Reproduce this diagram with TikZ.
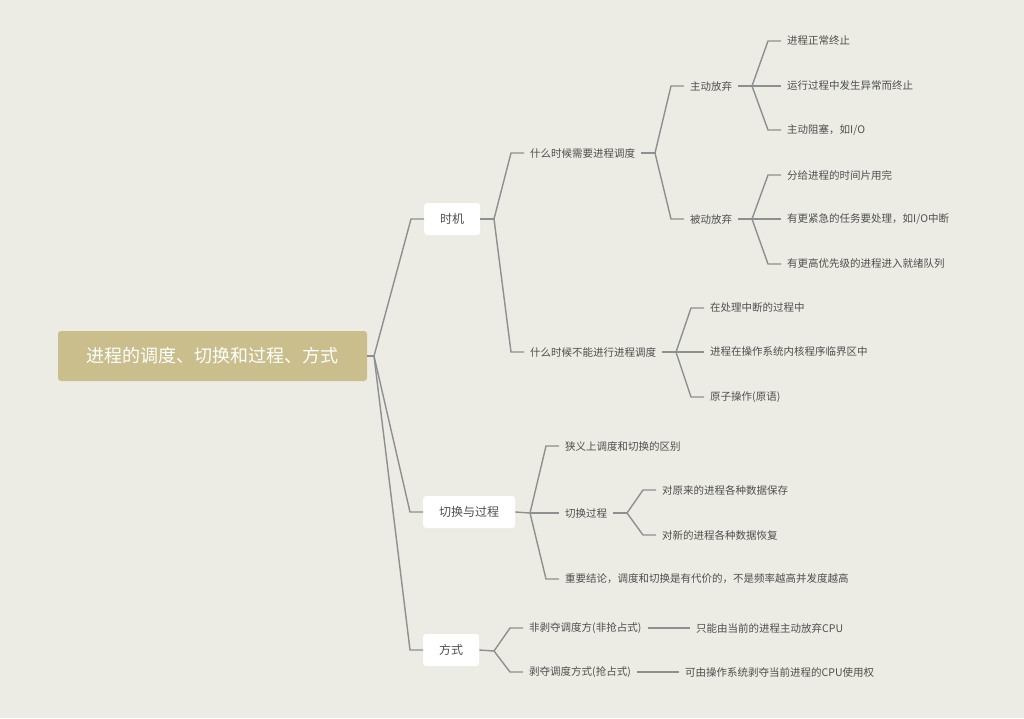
\documentclass[tikz,border=0pt]{standalone}
\usepackage{fontspec}
\newfontfamily\cjk{Noto Sans CJK SC}
\definecolor{paper}{HTML}{ECECE5}
\definecolor{gold}{HTML}{C9BE8C}
\definecolor{wire}{HTML}{8C9090}
\definecolor{ink}{HTML}{4E4E4E}
\tikzset{
  link/.style={draw=wire,line width=1.4pt},
  rootbox/.style={rectangle,fill=gold,rounded corners=3pt,text=white,minimum width=309pt,minimum height=50pt,font=\cjk\fontsize{18}{20}\selectfont},
  topic/.style={rectangle,fill=white,rounded corners=3pt,text=ink,anchor=west,inner xsep=16pt,inner ysep=0pt,minimum height=32pt,font=\cjk\fontsize{12}{14}\selectfont},
  leaf/.style={anchor=west,text=ink,inner xsep=6pt,inner ysep=2pt,font=\cjk\fontsize{10.5}{12}\selectfont}
}
\newcommand{\twig}[2]{\draw[link] (#1) -- ([xshift=-13pt]#2.west) -- (#2.west);}

\begin{document}
\begin{tikzpicture}[x=1pt,y=-1pt]
\fill[paper] (0,0) rectangle (1024,718);
\useasboundingbox (0,0) rectangle (1024,718);

% main topic and its three branches
\node[rootbox] (Root) at (212.5,356) {进程的调度、切换和过程、方式};
\node[topic] (Timing) at (424,219) {时机};
\node[topic] (Switch) at (423,512) {切换与过程};
\node[topic] (Mode) at (423,650) {方式};

% timing
\node[leaf] (Need) at (524,153) {什么时候需要进程调度};
\node[leaf] (Cannot) at (524,352) {什么时候不能进行进程调度};
\node[leaf] (Active) at (684,86) {主动放弃};
\node[leaf] (Passive) at (684,219) {被动放弃};
\node[leaf] (A1) at (781,41) {进程正常终止};
\node[leaf] (A2) at (781,86) {运行过程中发生异常而终止};
\node[leaf] (A3) at (781,130) {主动阻塞，如I/O};
\node[leaf] (P1) at (781,175) {分给进程的时间片用完};
\node[leaf] (P2) at (781,219) {有更紧急的任务要处理，如I/O中断};
\node[leaf] (P3) at (781,264) {有更高优先级的进程进入就绪队列};
\node[leaf] (C1) at (704,308) {在处理中断的过程中};
\node[leaf] (C2) at (704,352) {进程在操作系统内核程序临界区中};
\node[leaf] (C3) at (704,397) {原子操作(原语)};

% switching
\node[leaf] (S1) at (559,446) {狭义上调度和切换的区别};
\node[leaf] (S2) at (559,513) {切换过程};
\node[leaf] (S3) at (559,579) {重要结论，调度和切换是有代价的，不是频率越高并发度越高};
\node[leaf] (Save) at (656,490) {对原来的进程各种数据保存};
\node[leaf] (Load) at (656,535) {对新的进程各种数据恢复};

% mode
\node[leaf] (M1) at (523,628) {非剥夺调度方(非抢占式)};
\node[leaf] (M2) at (523,672) {剥夺调度方式(抢占式)};
\node[leaf] (M1x) at (690,628) {只能由当前的进程主动放弃CPU};
\node[leaf] (M2x) at (679,672) {可由操作系统剥夺当前进程的CPU使用权};

% forks
\coordinate (fRoot) at (374,356);
\coordinate (fTiming) at (494,219);
\coordinate (fNeed) at (655,153);
\coordinate (fActive) at (752,86);
\coordinate (fPassive) at (752,219);
\coordinate (fCannot) at (676,352);
\coordinate (fSwitch) at (530,513);
\coordinate (fS2) at (627,513);
\coordinate (fMode) at (494,651);

\draw[link] (Root.east) -- (fRoot);
\twig{fRoot}{Timing}
\twig{fRoot}{Switch}
\twig{fRoot}{Mode}

\draw[link] (Timing.east) -- (fTiming);
\twig{fTiming}{Need}
\twig{fTiming}{Cannot}
\draw[link] (Need.east) -- (fNeed);
\twig{fNeed}{Active}
\twig{fNeed}{Passive}
\draw[link] (Active.east) -- (fActive);
\twig{fActive}{A1}
\twig{fActive}{A2}
\twig{fActive}{A3}
\draw[link] (Passive.east) -- (fPassive);
\twig{fPassive}{P1}
\twig{fPassive}{P2}
\twig{fPassive}{P3}
\draw[link] (Cannot.east) -- (fCannot);
\twig{fCannot}{C1}
\twig{fCannot}{C2}
\twig{fCannot}{C3}

\draw[link] (Switch.east) -- (fSwitch);
\twig{fSwitch}{S1}
\twig{fSwitch}{S2}
\twig{fSwitch}{S3}
\draw[link] (S2.east) -- (fS2);
\twig{fS2}{Save}
\twig{fS2}{Load}

\draw[link] (Mode.east) -- (fMode);
\twig{fMode}{M1}
\twig{fMode}{M2}
\draw[link] (M1.east) -- (M1x.west);
\draw[link] (M2.east) -- (M2x.west);
\end{tikzpicture}
\end{document}
